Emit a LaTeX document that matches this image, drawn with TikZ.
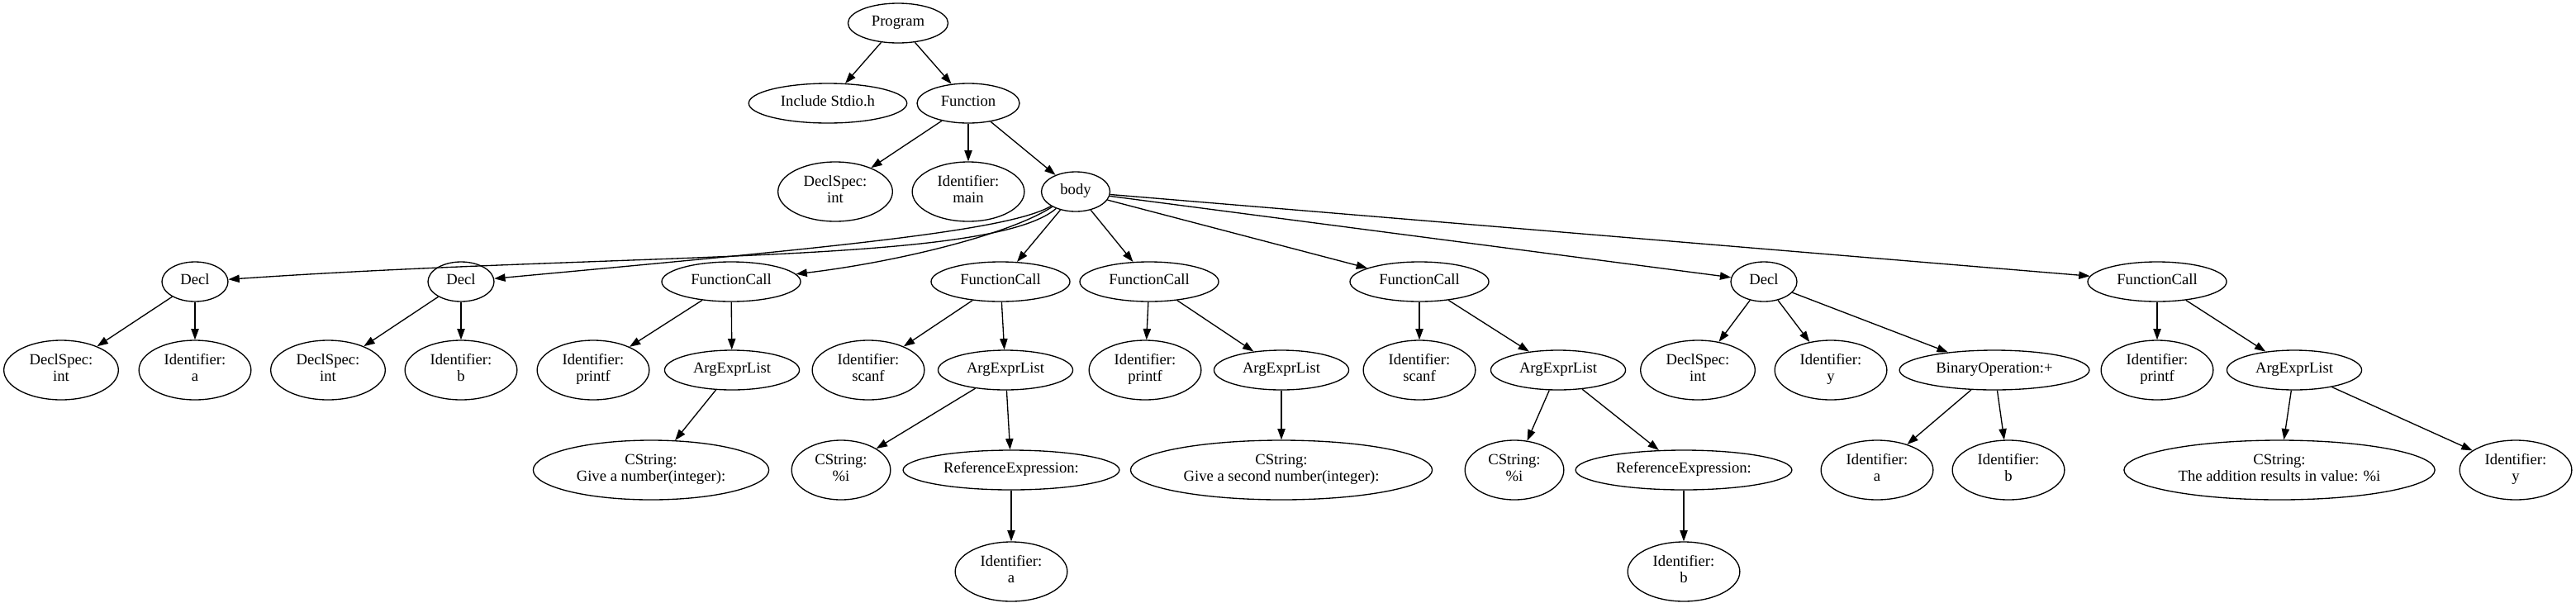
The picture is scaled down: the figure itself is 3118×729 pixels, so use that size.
\documentclass[tikz,border=0pt]{standalone}
\usepackage{fontspec}
\setmainfont{Liberation Serif}
\usepackage{tikz}
\usetikzlibrary{arrows.meta,shapes.geometric}
\tikzset{
  ast/.style={ellipse, draw=black, line width=1pt, font=\fontsize{14}{14.6}\selectfont,
    align=center, inner xsep=8pt, inner ysep=2pt, minimum width=54pt, minimum height=36pt,
    execute at begin node=\strut, execute at end node=\strut},
  ast2/.style={ast, minimum height=54pt},
  arr/.style={draw=black, line width=1pt, -{Triangle[length=10pt,width=7pt]}}
}

\begin{document}
\begin{tikzpicture}[x=0.75pt, y=-0.75pt]
  \useasboundingbox (0,0) rectangle (3118,729);

  % top of the tree
  \node[ast] (prog) at (1087,28) {Program};
  \node[ast] (inc) at (1002,125) {Include Stdio.h};
  \node[ast] (func) at (1172,125) {Function};
  \node[ast2] (fspec) at (1011,232) {DeclSpec:\\int};
  \node[ast2] (fname) at (1172,232) {Identifier:\\main};
  \node[ast] (body) at (1302,232) {body};

  % statements of the body
  \node[ast] (decla) at (236,341) {Decl};
  \node[ast] (declb) at (558,341) {Decl};
  \node[ast] (calla) at (885,341) {FunctionCall};
  \node[ast] (callb) at (1211,341) {FunctionCall};
  \node[ast] (callc) at (1391,341) {FunctionCall};
  \node[ast] (calld) at (1718,341) {FunctionCall};
  \node[ast] (declc) at (2135,341) {Decl};
  \node[ast] (calle) at (2611,341) {FunctionCall};

  \node[ast2] (speca) at (74,448) {DeclSpec:\\int};
  \node[ast2] (ida) at (236,448) {Identifier:\\a};
  \node[ast2] (specb) at (397,448) {DeclSpec:\\int};
  \node[ast2] (idb) at (558,448) {Identifier:\\b};
  \node[ast2] (fna) at (718,448) {Identifier:\\printf};
  \node[ast] (argsa) at (886,448) {ArgExprList};
  \node[ast2] (fnb) at (1051,448) {Identifier:\\scanf};
  \node[ast] (argsb) at (1217,448) {ArgExprList};
  \node[ast2] (fnc) at (1386,448) {Identifier:\\printf};
  \node[ast] (argsc) at (1551,448) {ArgExprList};
  \node[ast2] (fnd) at (1718,448) {Identifier:\\scanf};
  \node[ast] (argsd) at (1886,448) {ArgExprList};
  \node[ast2] (specc) at (2055,448) {DeclSpec:\\int};
  \node[ast2] (idc) at (2216,448) {Identifier:\\y};
  \node[ast] (binop) at (2414,448) {BinaryOperation:+};
  \node[ast2] (fne) at (2611,448) {Identifier:\\printf};
  \node[ast] (argse) at (2777,448) {ArgExprList};

  % arguments
  \node[ast2] (stra) at (788,569) {CString:\\Give a number(integer):};
  \node[ast2] (strb) at (1018,569) {CString:\\\%i};
  \node[ast] (refa) at (1224,569) {ReferenceExpression:};
  \node[ast2] (strc) at (1551,569) {CString:\\Give a second number(integer):};
  \node[ast2] (strd) at (1833,569) {CString:\\\%i};
  \node[ast] (refb) at (2038,569) {ReferenceExpression:};
  \node[ast2] (opa) at (2272,569) {Identifier:\\a};
  \node[ast2] (opb) at (2431,569) {Identifier:\\b};
  \node[ast2] (stre) at (2759,569) {CString:\\The addition results in value: \%i};
  \node[ast2] (idd) at (3045,569) {Identifier:\\y};
  \node[ast2] (refida) at (1224,692) {Identifier:\\a};
  \node[ast2] (refidb) at (2038,692) {Identifier:\\b};

  \draw[arr] (prog) -- (inc);
  \draw[arr] (prog) -- (func);
  \draw[arr] (func) -- (fspec);
  \draw[arr] (func) -- (fname);
  \draw[arr] (func) -- (body);

  % long edges out of body
  \draw[arr] (body) .. controls (1200,320) and (760,305) .. (decla);
  \draw[arr] (body) .. controls (1220,280) and (1000,300) .. (declb);
  \draw[arr] (body) .. controls (1220,285) and (1080,318) .. (calla);
  \draw[arr] (body) -- (callb);
  \draw[arr] (body) -- (callc);
  \draw[arr] (body) -- (calld);
  \draw[arr] (body) -- (declc);
  \draw[arr] (body) -- (calle);

  \draw[arr] (decla) -- (speca);
  \draw[arr] (decla) -- (ida);
  \draw[arr] (declb) -- (specb);
  \draw[arr] (declb) -- (idb);
  \draw[arr] (calla) -- (fna);
  \draw[arr] (calla) -- (argsa);
  \draw[arr] (callb) -- (fnb);
  \draw[arr] (callb) -- (argsb);
  \draw[arr] (callc) -- (fnc);
  \draw[arr] (callc) -- (argsc);
  \draw[arr] (calld) -- (fnd);
  \draw[arr] (calld) -- (argsd);
  \draw[arr] (declc) -- (specc);
  \draw[arr] (declc) -- (idc);
  \draw[arr] (declc) -- (binop);
  \draw[arr] (calle) -- (fne);
  \draw[arr] (calle) -- (argse);

  \draw[arr] (argsa) -- (stra);
  \draw[arr] (argsb) -- (strb);
  \draw[arr] (argsb) -- (refa);
  \draw[arr] (argsc) -- (strc);
  \draw[arr] (argsd) -- (strd);
  \draw[arr] (argsd) -- (refb);
  \draw[arr] (binop) -- (opa);
  \draw[arr] (binop) -- (opb);
  \draw[arr] (argse) -- (stre);
  \draw[arr] (argse) -- (idd);
  \draw[arr] (refa) -- (refida);
  \draw[arr] (refb) -- (refidb);
\end{tikzpicture}
\end{document}
